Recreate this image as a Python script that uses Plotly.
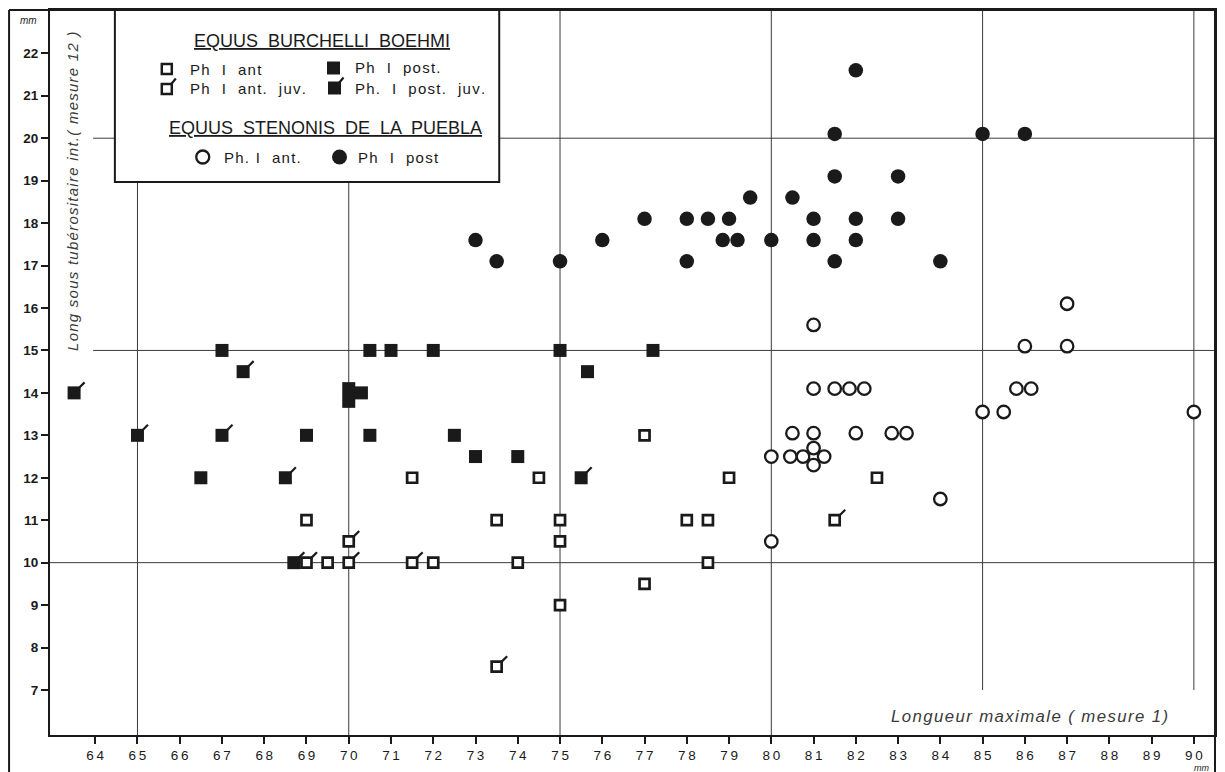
import plotly.graph_objects as go

# ---------------- data ----------------
# Equus burchelli boehmi - Ph I ant (open squares)
ant_x = [69, 69.5, 71.5, 72, 73.5, 74, 74.5, 75, 75, 75, 77, 77, 78, 78.5, 78.5, 79, 82.5]
ant_y = [11, 10, 12, 10, 11, 10, 12, 11, 10.5, 9, 13, 9.5, 11, 11, 10, 12, 12]

# Ph I ant. juv. (open squares with flag)
ant_juv_x = [69, 70, 70, 71.5, 73.5, 81.5]
ant_juv_y = [10, 10, 10.5, 10, 7.55, 11]

# Ph I post. (filled squares)
post_x = [66.5, 67, 69, 70, 70, 70.3, 70.5, 70.5, 71, 72, 72.5, 73, 74, 75, 75.65, 77.2]
post_y = [12, 15, 13, 14.1, 13.8, 14, 15, 13, 15, 15, 13, 12.5, 12.5, 15, 14.5, 15]

# Ph I post. juv. (filled squares with flag)
post_juv_x = [63.5, 65, 67, 67.5, 68.5, 68.7, 75.5]
post_juv_y = [14, 13, 13, 14.5, 12, 10, 12]

# Equus stenonis de la Puebla - Ph I ant. (open circles)
sten_ant_x = [80, 80, 80.45, 80.5, 80.75, 81, 81, 81, 81, 81, 81.25, 81.5, 81.85, 82, 82.2,
              82.85, 83.2, 84, 85, 85.5, 85.8, 86, 86.15, 87, 87, 90]
sten_ant_y = [10.5, 12.5, 12.5, 13.05, 12.5, 15.6, 14.1, 13.05, 12.7, 12.3, 12.5, 14.1, 14.1,
              13.05, 14.1, 13.05, 13.05, 11.5, 13.55, 13.55, 14.1, 15.1, 14.1, 15.1, 16.1, 13.55]

# Ph I post (filled circles)
sten_post_x = [73, 73.5, 75, 76, 77, 78, 78, 78.5, 78.85, 79, 79.2, 79.5, 80, 80.5, 81, 81,
               81.5, 81.5, 81.5, 82, 82, 82, 83, 83, 84, 85, 86]
sten_post_y = [17.6, 17.1, 17.1, 17.6, 18.1, 18.1, 17.1, 18.1, 17.6, 18.1, 17.6, 18.6, 17.6,
               18.6, 18.1, 17.6, 20.1, 19.1, 17.1, 21.6, 18.1, 17.6, 19.1, 18.1, 17.1, 20.1, 20.1]

x_ticks = list(range(64, 91))
y_ticks = list(range(7, 23))
x_grid = [65, 70, 75, 80, 85, 90]
y_grid = [10, 15, 20]

# ---------------- styling ----------------
INK = "#1a1a1a"
GRID = "#3a3a3a"
FONT = "Liberation Sans"
HAIR = "\u200a"
THIN = "\u2009"
W, H = 1225, 772
ML, MR, MT, MB = 50, 8, 10, 37
PW, PH = W - ML - MR, H - MT - MB
X_RANGE = [62.93, 90.5]
Y_RANGE = [5.94, 23.02]


def px(x):
    return (x - ML) / PW


def py(y):
    return (H - MB - y) / PH


def spaced(s, sep=HAIR):
    return sep.join(list(s))


fig = go.Figure()

sq_open = dict(symbol="square", size=10, color="white", line=dict(color=INK, width=2.7))
sq_fill = dict(symbol="square", size=13, color=INK, line=dict(color=INK, width=0))
flag = dict(symbol="line-ns", size=5.5, angle=225, standoff=11,
            line=dict(color=INK, width=2.2))

fig.add_trace(go.Scatter(x=ant_x, y=ant_y, mode="markers", name="Ph I ant",
                         marker=sq_open))
fig.add_trace(go.Scatter(x=ant_juv_x, y=ant_juv_y, mode="markers", name="Ph I ant. juv.",
                         marker=sq_open))
fig.add_trace(go.Scatter(x=ant_juv_x, y=ant_juv_y, mode="markers", showlegend=False,
                         marker=flag, hoverinfo="skip"))
fig.add_trace(go.Scatter(x=post_x, y=post_y, mode="markers", name="Ph I post.",
                         marker=sq_fill))
fig.add_trace(go.Scatter(x=post_juv_x, y=post_juv_y, mode="markers", name="Ph. I post. juv.",
                         marker=sq_fill))
fig.add_trace(go.Scatter(x=post_juv_x, y=post_juv_y, mode="markers", showlegend=False,
                         marker=flag, hoverinfo="skip"))
fig.add_trace(go.Scatter(x=sten_ant_x, y=sten_ant_y, mode="markers", name="Ph.I ant.",
                         marker=dict(symbol="circle", size=12.5, color="white",
                                     line=dict(color=INK, width=2.3))))
fig.add_trace(go.Scatter(x=sten_post_x, y=sten_post_y, mode="markers", name="Ph I post",
                         marker=dict(symbol="circle", size=14.5, color=INK,
                                     line=dict(color=INK, width=0))))

shapes = []
# grid lines
for g in x_grid:
    y0 = 7 if g >= 85 else Y_RANGE[0]
    shapes.append(dict(type="line", xref="x", yref="y", x0=g, x1=g, y0=y0, y1=Y_RANGE[1],
                       line=dict(color=GRID, width=1), layer="below"))
for g in y_grid:
    x0 = X_RANGE[0] if g == 10 else 63.95
    shapes.append(dict(type="line", xref="x", yref="y", x0=x0, x1=X_RANGE[1], y0=g, y1=g,
                       line=dict(color=GRID, width=1), layer="below"))

# outer frame
frame = dict(color=INK, width=2)
shapes.append(dict(type="line", xref="paper", yref="paper", x0=px(9), x1=px(9),
                   y0=py(10), y1=py(H), line=frame, layer="above"))
shapes.append(dict(type="line", xref="paper", yref="paper", x0=px(9), x1=1,
                   y0=py(10), y1=py(10), line=frame, layer="above"))
shapes.append(dict(type="line", xref="paper", yref="paper", x0=1, x1=1,
                   y0=py(10), y1=py(H), line=frame, layer="above"))

# legend box
shapes.append(dict(type="rect", xref="paper", yref="paper", x0=px(115), x1=px(500),
                   y0=py(182), y1=py(10), fillcolor="white", line=dict(color=INK, width=2),
                   layer="above"))


def key_rect(cx, cy, half, filled):
    shapes.append(dict(type="rect", xref="paper", yref="paper", xsizemode="pixel",
                       ysizemode="pixel", xanchor=px(cx), yanchor=py(cy),
                       x0=-half, x1=half, y0=-half, y1=half,
                       fillcolor=INK if filled else "white",
                       line=dict(color=INK, width=0 if filled else 2.5), layer="above"))


def key_flag(cx, cy):
    shapes.append(dict(type="line", xref="paper", yref="paper", xsizemode="pixel",
                       ysizemode="pixel", xanchor=px(cx), yanchor=py(cy),
                       x0=4.5, x1=9, y0=5, y1=10.5,
                       line=dict(color=INK, width=2.2), layer="above"))


def key_circle(cx, cy, r, filled):
    shapes.append(dict(type="circle", xref="paper", yref="paper", xsizemode="pixel",
                       ysizemode="pixel", xanchor=px(cx), yanchor=py(cy),
                       x0=-r, x1=r, y0=-r, y1=r,
                       fillcolor=INK if filled else "white",
                       line=dict(color=INK, width=0 if filled else 2.3), layer="above"))


key_rect(167, 69, 5, False)
key_rect(334, 68, 6.5, True)
key_rect(167, 89, 5, False)
key_flag(167, 89)
key_rect(335, 88, 6.5, True)
key_flag(335, 88)
key_circle(203, 157, 6.5, False)
key_circle(340, 157, 7.5, True)

ann = []


def text(t, x, y, size=14, anchor="left", italic=False, angle=0, color=INK, weight="normal"):
    ann.append(dict(text=t, xref="paper", yref="paper", x=px(x), y=py(y), xanchor=anchor,
                    yanchor="middle", showarrow=False, textangle=angle,
                    font=dict(family=FONT, size=size, color=color, weight=weight,
                              style="italic" if italic else "normal")))


text("<u>EQUUS  BURCHELLI  BOEHMI</u>", 322, 41, size=18, anchor="center")
text(spaced("Ph  I  ant"), 188, 69, size=15)
text(spaced("Ph  I  post."), 354, 68, size=15)
text(spaced("Ph  I  ant.  juv."), 188, 88, size=15)
text(spaced("Ph.  I  post.  juv."), 354, 88, size=15)
text("<u>EQUUS  STENONIS  DE  LA  PUEBLA</u>", 326, 128, size=18, anchor="center")
text(spaced("Ph. I  ant."), 222, 157, size=15)
text(spaced("Ph  I  post"), 357, 157, size=15)
text("mm", 28, 21, size=10, anchor="center", italic=True)
text("mm", 1203, 767.5, size=9, anchor="center", italic=True)
text(spaced("Long sous tubérositaire int.( mesure 12 )"), 72, 191, size=15, anchor="center",
     italic=True, angle=-90, color="#3a3a3a")
text(spaced("Longueur maximale ( mesure 1)"), 1031, 716, size=16.8, anchor="center",
     italic=True, color="#3a3a3a")

axis_common = dict(showgrid=False, zeroline=False, showline=True, mirror=True,
                   linecolor=INK, linewidth=2, ticks="outside", ticklen=7, tickwidth=1.5,
                   tickcolor=INK)

fig.update_layout(
    width=W, height=H,
    margin=dict(l=ML, r=MR, t=MT, b=MB),
    paper_bgcolor="white", plot_bgcolor="white",
    showlegend=False,
    xaxis=dict(range=X_RANGE, tickvals=x_ticks,
               ticktext=[spaced(str(v), THIN) for v in x_ticks],
               tickfont=dict(family=FONT, size=13.5, color=INK), **axis_common),
    yaxis=dict(range=Y_RANGE, tickvals=y_ticks, ticktext=[str(v) for v in y_ticks],
               tickfont=dict(family=FONT, size=13.5, color=INK, weight="bold"),
               **axis_common),
    shapes=shapes,
    annotations=ann,
)

fig.write_html("out.html", config={"displayModeBar": False},
               post_script="document.body.style.margin='0px';document.body.style.overflow='hidden';")
